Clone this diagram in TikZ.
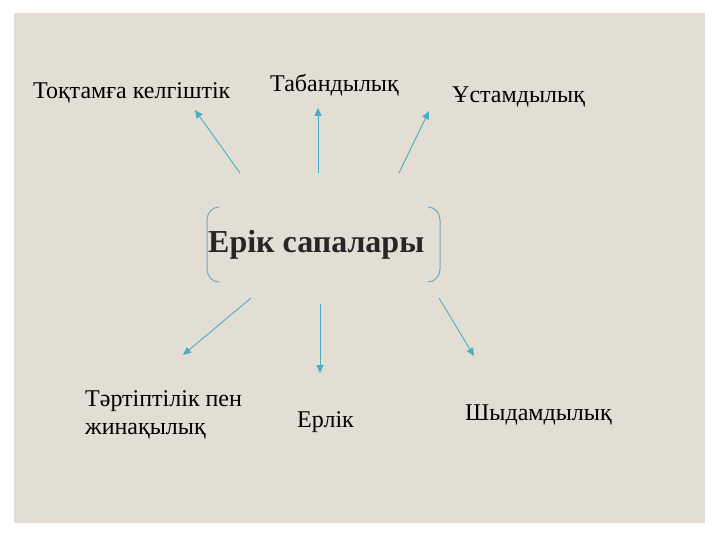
\documentclass[tikz,border=0pt]{standalone}
\usepackage{fontspec}
\setmainfont{Liberation Serif}
\usetikzlibrary{arrows.meta}
\definecolor{bg}{HTML}{E2DED3}
\definecolor{arr}{HTML}{4BACC6}
\definecolor{brk}{HTML}{6FAAC2}
\tikzset{
  lbl/.style={anchor=base west, inner sep=0pt, font=\fontsize{24}{28}\selectfont, text=black},
  title/.style={anchor=base west, inner sep=0pt, font=\fontsize{32}{38}\selectfont\bfseries, text=black!85},
  link/.style={draw=arr, line width=0.9pt, -{Triangle[length=8pt,width=7pt]}},
  bracket/.style={draw=brk, line width=1pt}
}
\begin{document}
\begin{tikzpicture}[x=1pt,y=-1pt]
\useasboundingbox (0,0) rectangle (720,540);
\fill[white] (0,0) rectangle (720,540);
\fill[bg] (14,13) rectangle (705,523);
% title
\node[title] (t) at (208,252) {Ерік сапалары};
\draw[bracket] (219,207) to[out=180,in=90] (207,220) -- (207,269) to[out=-90,in=180] (219,282);
\draw[bracket] (428,207) to[out=0,in=90] (440,220) -- (440,269) to[out=-90,in=0] (428,282);
% labels
\node[lbl] (a) at (33,99) {Тоқтамға келгіштік};
\node[lbl] (b) at (270,92) {Табандылық};
\node[lbl] (c) at (452,103) {Ұстамдылық};
\node[lbl] (d1) at (85,406) {Тәртіптілік пен};
\node[lbl] (d2) at (85,434) {жинақылық};
\node[lbl] (e) at (297,427) {Ерлік};
\node[lbl] (f) at (465,420) {Шыдамдылық};
% arrow ends
\coordinate (s1) at (240,173); \coordinate (e1) at (195,110);
\coordinate (s2) at (318,173); \coordinate (e2) at (318,108);
\coordinate (s3) at (399,173); \coordinate (e3) at (429,111);
\coordinate (s4) at (251,298); \coordinate (e4) at (183,355);
\coordinate (s5) at (320,304); \coordinate (e5) at (320,373);
\coordinate (s6) at (439,298); \coordinate (e6) at (474,356);
\draw[link] (s1) -- (e1);
\draw[link] (s2) -- (e2);
\draw[link] (s3) -- (e3);
\draw[link] (s4) -- (e4);
\draw[link] (s5) -- (e5);
\draw[link] (s6) -- (e6);
\end{tikzpicture}
\end{document}
